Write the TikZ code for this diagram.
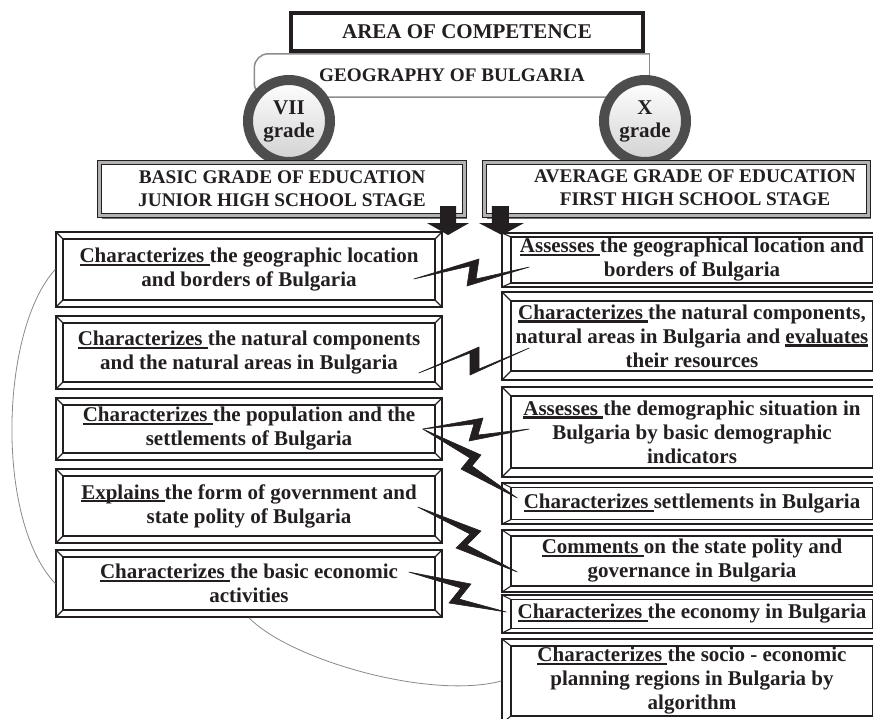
\documentclass[tikz,border=0pt]{standalone}
\usepackage{fontspec}
\setmainfont{Liberation Serif}
\usetikzlibrary{calc}

\definecolor{ink}{HTML}{231F20}
\definecolor{ringgray}{HTML}{4D4D4D}
\definecolor{scrollgray}{HTML}{8C8C8C}
\definecolor{curvegray}{HTML}{8A8A8A}

% verb underlined with a heavy rule, as in the competence statements
\newcommand\keyword[1]{\setbox0\hbox{#1}\rlap{\rule[-3.4pt]{\wd0}{2.1pt}}\box0\relax}

% lightning-bolt connector: start, upper corner, lower corner, end, notch offset
\newcommand\zigbolt[5]{%
  \coordinate (zs) at #1; \coordinate (z1) at #2;
  \coordinate (z2) at #3; \coordinate (ze) at #4;
  \filldraw[bolt] (zs) -- (z1) -- ($(z2)+#5$) -- (ze) -- (z2) -- ($(z1)-#5$) -- cycle;}

\tikzset{
  bevel x/.store in=\bevx, bevel y/.store in=\bevy,
  bevel x=7pt, bevel y=7pt,
  bevelrule/.style={draw=ink, line width=1.1pt},
  bevelbox/.style={draw=ink, line width=1.5pt, fill=white, inner sep=0pt, align=center,
    path picture={
      \draw[bevelrule] ([xshift=\bevx,yshift=-\bevy]path picture bounding box.north west)
        rectangle ([xshift=-\bevx,yshift=\bevy]path picture bounding box.south east);
      \draw[bevelrule] (path picture bounding box.north west) -- ++(\bevx,-\bevy);
      \draw[bevelrule] (path picture bounding box.north east) -- ++(-\bevx,-\bevy);
      \draw[bevelrule] (path picture bounding box.south west) -- ++(\bevx,\bevy);
      \draw[bevelrule] (path picture bounding box.south east) -- ++(-\bevx,\bevy);
    }},
  lbox/.style={bevelbox, minimum width=386pt},
  rbox/.style={bevelbox, minimum width=380pt, bevel x=9pt, bevel y=9pt},
  titlebox/.style={draw=ink, line width=3.4pt, fill=white, inner sep=0pt,
    minimum width=352pt, minimum height=38pt},
  scrolltext/.style={inner sep=0pt, minimum width=395pt, minimum height=43pt,
    font=\fontsize{19.2}{23}\selectfont\bfseries},
  scrollline/.style={draw=scrollgray, line width=1.5pt},
  gradecircle/.style={circle, draw=ringgray, line width=10pt, minimum size=82pt, inner sep=0pt,
    align=center, top color=white, bottom color=black!18,
    font=\fontsize{21}{23}\selectfont\bfseries},
  headbox/.style={draw=ink, line width=1.1pt, double=black!30, double distance=3.4pt,
    fill=white, inner sep=0pt, align=center, minimum height=53pt,
    font=\fontsize{19.3}{23}\selectfont\bfseries,
    preaction={fill=black!55, transform canvas={shift={(2pt,-3pt)}}}},
  headtext/.style={align=center, inner sep=0pt, font=\fontsize{19.3}{23}\selectfont\bfseries},
  blockarrow/.style={fill=ink},
  bolt/.style={fill=ink, draw=ink, line width=0.6pt, line join=miter},
  linkcurve/.style={draw=curvegray, line width=0.8pt},
}

\begin{document}
\begin{tikzpicture}[x=1pt, y=-1pt, font=\fontsize{21}{24}\selectfont\bfseries, text=ink]
\clip (0,0) rectangle (873,718);
\fill[white] (0,0) rectangle (873,718);

% subject scroll
\node[scrolltext] (subject) at (452,75.5) {GEOGRAPHY OF BULGARIA};
\draw[scrollline, rounded corners=14pt] (subject.north east) -- (subject.north west)
  -- (subject.south west) -- (subject.south east);
\draw[scrollline, line cap=rect] (subject.north east) -- (subject.south east);

% area of competence
\node[titlebox] (area) at (467,32) {AREA OF COMPETENCE};

% grade badges
\node[gradecircle] (grade7) at (289,121) {VII\\grade};
\node[gradecircle] (grade10) at (645,121) {X\\grade};

% stage headers
\node[headbox, minimum width=365pt] (basic) at (282,189)
  {BASIC GRADE OF EDUCATION\\JUNIOR HIGH SCHOOL STAGE};
\node[headbox, minimum width=384pt] (average) at (676.5,189) {};
\node[headtext] (averagetext) at (695,188) {AVERAGE GRADE OF EDUCATION\\FIRST HIGH SCHOOL STAGE};

% block arrows under the headers
\fill[blockarrow] ($(basic.south east)+(-25,-10)$) -- ++(16,0) -- ++(0,17) -- ++(13,0)
  -- ++(-21,12) -- ++(-21,-12) -- ++(13,0) -- cycle;
\fill[blockarrow] ($(average.south west)+(8,-10)$) -- ++(17,0) -- ++(0,17) -- ++(15,0)
  -- ++(-22,12) -- ++(-23,-12) -- ++(13,0) -- cycle;

% seventh grade competences
\node[lbox, minimum height=75pt] (L1) at (249,269.5)
  {\keyword{Characterizes\ }the geographic location\\and borders of Bulgaria};
\node[lbox, minimum height=73pt] (L2) at (249,352.5)
  {\keyword{Characterizes\ }the natural components\\and the natural areas in Bulgaria};
\node[lbox, minimum height=62pt] (L3) at (249,429)
  {\keyword{Characterizes\ }the population and the\\settlements of Bulgaria};
\node[lbox, minimum height=74pt] (L4) at (249,506)
  {\keyword{Explains\ }the form of government and\\state polity of Bulgaria};
\node[lbox, minimum height=67pt] (L5) at (249,583.5)
  {\keyword{Characterizes\ }the basic economic\\activities};

% tenth grade competences
\node[rbox, minimum height=54pt, bevel y=4pt] (R1) at (692,260)
  {\keyword{Assesses\ }the geographical location and\\borders of Bulgaria};
\node[rbox, minimum height=88pt] (R2) at (692,336)
  {\keyword{Characterizes\ }the natural components,\\natural areas in Bulgaria and \keyword{evaluates}\\their resources};
\node[rbox, minimum height=90pt] (R3) at (692,432)
  {\keyword{Assesses\ }the demographic situation in\\Bulgaria by basic demographic\\indicators};
\node[rbox, minimum height=41pt, bevel y=4.5pt] (R4) at (692,503.5)
  {\keyword{Characterizes\ }settlements in Bulgaria};
\node[rbox, minimum height=62pt, bevel y=6pt] (R5) at (692,561)
  {\keyword{Comments\ }on the state polity and\\governance in Bulgaria};
\node[rbox, minimum height=38pt, bevel y=4.5pt] (R6) at (692,614)
  {\keyword{Characterizes\ }the economy in Bulgaria};
\node[rbox, minimum height=84pt, bevel y=7pt] (R7) at (692,681)
  {\keyword{Characterizes\ }the socio - economic\\planning regions in Bulgaria by\\algorithm};

% thin grey links
\draw[linkcurve] (L1.west) .. controls (0,330) and (-5,520) .. (L5.west);
\draw[linkcurve] (L5.south) .. controls (290,660) and (430,700) .. (R7.west);

% lightning connectors between matching competences
\zigbolt{($(L1.east)+(-29,9.5)$)}{(479,259)}{(467,286)}{($(R1.west)+(28,7)$)}{(9,-7)}
\zigbolt{($(L2.east)+(-24,20.5)$)}{(479,347)}{(470,375)}{($(R2.west)+(28,12)$)}{(9,-6)}
\zigbolt{($(L3.east)+(-20,0)$)}{(483,418)}{(469,441)}{($(R3.west)+(28,-3)$)}{(9,-6)}
\zigbolt{($(L3.east)+(-20,0)$)}{(481,455)}{(461,469)}{($(R4.west)+(16,-5.5)$)}{(11,-3)}
\zigbolt{($(L4.east)+(-25,1)$)}{(481,531)}{(456,548)}{($(R5.west)+(16,11)$)}{(11,-3)}
\zigbolt{($(L5.east)+(-34,-11.5)$)}{(471,584)}{(449,603)}{($(R6.west)+(5,-2)$)}{(10,-4)}
\end{tikzpicture}
\end{document}
